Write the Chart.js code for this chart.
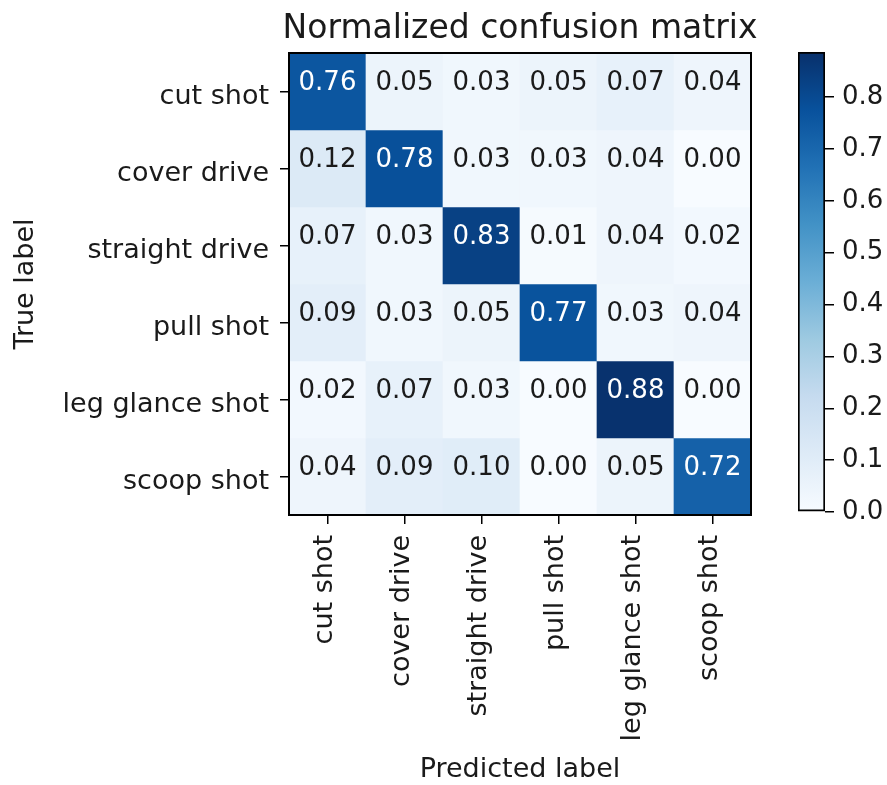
<!DOCTYPE html>
<html>
<head>
<meta charset="utf-8">
<script src="https://cdn.jsdelivr.net/npm/chart.js@4.4.1/dist/chart.umd.min.js"></script>
<style>
  body { margin: 0; background: #fff; }
  #wrap { position: relative; width: 887px; height: 785px; }
  #wrap canvas { position: absolute; top: 0; }
</style>
</head>
<body>
<div id="wrap">
  <canvas id="cm" width="887" height="785" style="left:0"></canvas>
  <canvas id="cbar" width="127" height="785" style="left:760px"></canvas>
</div>
<script>
const trueLabels = ['cut shot', 'cover drive', 'straight drive', 'pull shot', 'leg glance shot', 'scoop shot']
const predLabels = ['cut shot', 'cover drive', 'straight drive', 'pull shot', 'leg glance shot', 'scoop shot']

const rowCutShot = [0.76, 0.05, 0.03, 0.05, 0.07, 0.04]
const rowCoverDrive = [0.12, 0.78, 0.03, 0.03, 0.04, 0.00]
const rowStraightDrive = [0.07, 0.03, 0.83, 0.01, 0.04, 0.02]
const rowPullShot = [0.09, 0.03, 0.05, 0.77, 0.03, 0.04]
const rowLegGlance = [0.02, 0.07, 0.03, 0.00, 0.88, 0.00]
const rowScoopShot = [0.04, 0.09, 0.10, 0.00, 0.05, 0.72]
const matrix = [rowCutShot, rowCoverDrive, rowStraightDrive, rowPullShot, rowLegGlance, rowScoopShot]

const cbTicks = [0.0, 0.1, 0.2, 0.3, 0.4, 0.5, 0.6, 0.7, 0.8]
const vmin = 0
const vmax = 0.887

// matplotlib "Blues"
const bluesStops = ['#f7fbff', '#deebf7', '#c6dbef', '#9ecae1', '#6baed6', '#4292c6', '#2171b5', '#08519c', '#08306b']

function hexToRgb(h) {
  return [1, 3, 5].map(i => parseInt(h.slice(i, i + 2), 16))
}

function blues(t) {
  t = Math.max(0, Math.min(1, t))
  const pos = t * (bluesStops.length - 1)
  const i = Math.min(Math.floor(pos), bluesStops.length - 2)
  const f = pos - i
  const a = hexToRgb(bluesStops[i])
  const b = hexToRgb(bluesStops[i + 1])
  const c = a.map((v, k) => Math.round(v + (b[k] - v) * f))
  return `rgb(${c[0]}, ${c[1]}, ${c[2]})`
}

const norm = v => (v - vmin) / (vmax - vmin)

Chart.defaults.font.family = "'DejaVu Sans', sans-serif"
Chart.defaults.color = '#1a1a1a'

const FONT_TICK = { size: 27 }

const cellText = {
  id: 'cellText',
  afterDatasetsDraw(chart) {
    const { ctx, chartArea: a, scales } = chart
    ctx.save()
    ctx.font = "26px 'DejaVu Sans'"
    ctx.textAlign = 'center'
    ctx.textBaseline = 'middle'
    matrix.forEach((row, i) => {
      row.forEach((v, j) => {
        const x = scales.x.getPixelForValue(j)
        const y = scales.y.getPixelForValue(i + 0.5)
        ctx.fillStyle = v > vmax / 2 ? '#ffffff' : '#1a1a1a'
        ctx.fillText(v.toFixed(2), x, y - 8)
      })
    })
    // frame around the image
    ctx.strokeStyle = '#000'
    ctx.lineWidth = 2
    ctx.strokeRect(a.left, a.top, a.right - a.left, a.bottom - a.top)
    // title
    ctx.fillStyle = '#1a1a1a'
    ctx.font = "33px 'DejaVu Sans'"
    ctx.textBaseline = 'alphabetic'
    ctx.fillText('Normalized confusion matrix', (a.left + a.right) / 2, 38)
    ctx.restore()
  }
}

const datasets = matrix.map((row, i) => ({
  label: trueLabels[i],
  data: row.map((v, j) => ({ x: predLabels[j], y: [i, i + 1], v: v })),
  backgroundColor: c => blues(norm(c.raw.v)),
  borderWidth: 0,
  barPercentage: 1,
  categoryPercentage: 1,
  grouped: false
}))

new Chart(document.getElementById('cm'), {
  type: 'bar',
  data: { labels: predLabels, datasets: datasets },
  plugins: [cellText],
  options: {
    responsive: false,
    animation: false,
    devicePixelRatio: 1,
    layout: { padding: { left: 0, top: 53, right: 136, bottom: 0 } },
    plugins: {
      legend: { display: false },
      tooltip: { enabled: false }
    },
    scales: {
      x: {
        type: 'category',
        offset: true,
        grid: { offset: false, drawOnChartArea: false, color: '#000', tickLength: 9, lineWidth: 1.5 },
        border: { display: false },
        ticks: { font: FONT_TICK, padding: 11, minRotation: 90, maxRotation: 90, autoSkip: false, labelOffset: -3 },
        title: { display: true, text: 'Predicted label', font: { size: 27, lineHeight: 1.1 }, padding: 0 },
        afterFit: s => { s.height = 270 }
      },
      y: {
        type: 'linear',
        min: 0,
        max: 6,
        reverse: true,
        grid: { drawOnChartArea: false, color: '#000', tickLength: 9, lineWidth: 1.5 },
        border: { display: false },
        afterBuildTicks: s => { s.ticks = trueLabels.map((_, i) => ({ value: i + 0.5 })) },
        ticks: { font: FONT_TICK, padding: 11, autoSkip: false, labelOffset: 5, callback: (v, i) => trueLabels[i] },
        title: { display: true, text: 'True label', font: { size: 27, lineHeight: 1.2 }, padding: { top: 10, bottom: 10 } },
        afterFit: s => { s.width = 289 }
      }
    }
  }
})

new Chart(document.getElementById('cbar'), {
  type: 'bar',
  data: {
    labels: ['cb'],
    datasets: [{
      data: [[vmin, vmax]],
      backgroundColor: c => {
        const a = c.chart.chartArea
        if (!a) return blues(0.5)
        const g = c.chart.ctx.createLinearGradient(0, a.bottom, 0, a.top)
        bluesStops.forEach((col, k) => g.addColorStop(k / (bluesStops.length - 1), col))
        return g
      },
      borderColor: '#000',
      borderWidth: 2,
      borderSkipped: false,
      barPercentage: 1,
      categoryPercentage: 1
    }]
  },
  options: {
    responsive: false,
    animation: false,
    devicePixelRatio: 1,
    layout: { padding: { left: 38, top: 52, right: 0, bottom: 273 } },
    plugins: {
      legend: { display: false },
      tooltip: { enabled: false }
    },
    scales: {
      x: { display: false },
      y: {
        position: 'right',
        min: vmin,
        max: vmax,
        grid: { drawOnChartArea: false, color: '#000', tickLength: 9, lineWidth: 1.5 },
        border: { display: false },
        afterBuildTicks: s => { s.ticks = cbTicks.map(v => ({ value: v })) },
        ticks: { font: { size: 26 }, padding: 8, autoSkip: false, callback: v => v.toFixed(1) },
        afterFit: s => { s.width = 62 }
      }
    }
  }
})
</script>
</body>
</html>
